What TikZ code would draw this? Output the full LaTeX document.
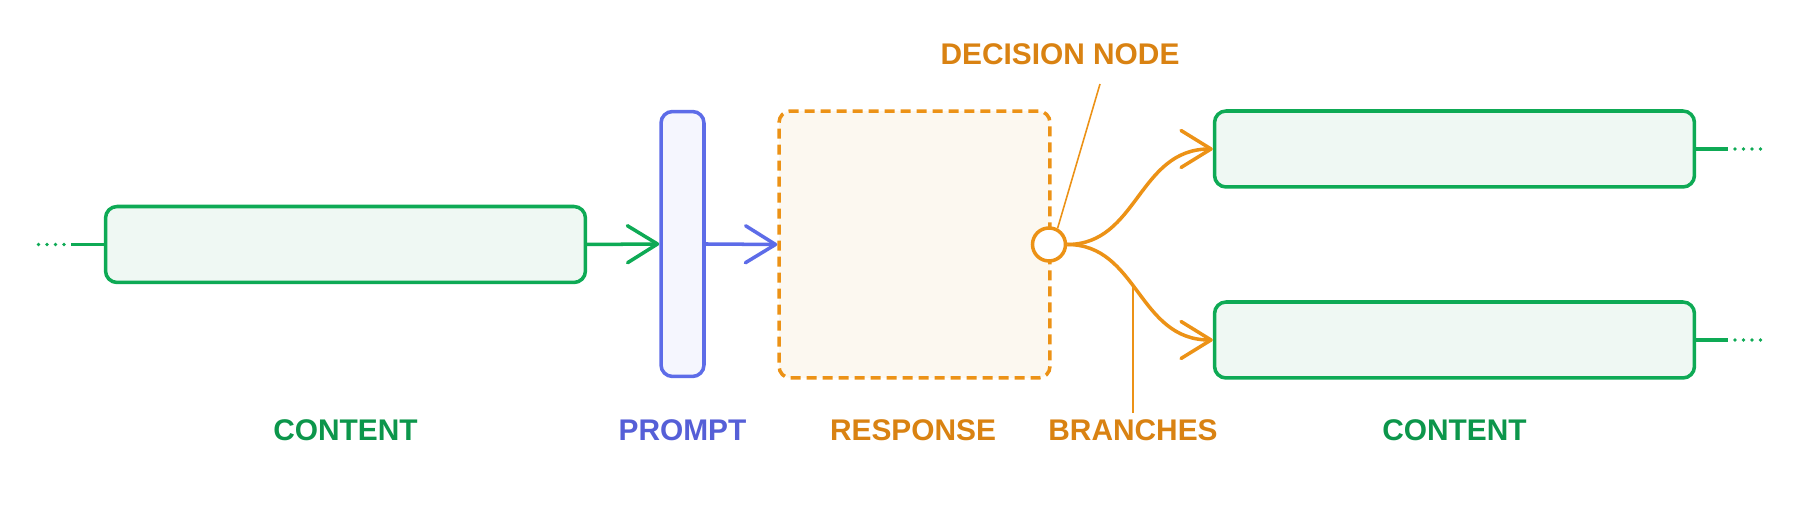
\documentclass[tikz,border=0pt]{standalone}
\usepackage{fontspec}
\setmainfont{Liberation Sans}
\usetikzlibrary{arrows.meta}

\definecolor{gline}{HTML}{0EAA55}
\definecolor{gfill}{HTML}{EFF8F3}
\definecolor{gtext}{HTML}{0C964B}
\definecolor{bline}{HTML}{5D6CE8}
\definecolor{bfill}{HTML}{F5F6FE}
\definecolor{btext}{HTML}{555FD7}
\definecolor{oline}{HTML}{EC9216}
\definecolor{ofill}{HTML}{FCF8F0}
\definecolor{otext}{HTML}{D98212}

\begin{document}
\begin{tikzpicture}[x=0.02cm,y=0.02cm]
            \tikzstyle{contentbox}=[draw=gline,fill=gfill,line width=2pt,rounded corners=0.23cm,minimum width=9.6cm,minimum height=1.52cm,inner sep=0pt]
            \tikzstyle{promptbox}=[draw=bline,fill=bfill,line width=2pt,rounded corners=0.23cm,minimum width=0.86cm,minimum height=5.3cm,inner sep=0pt]
            \tikzstyle{responsebox}=[draw=oline,fill=ofill,line width=2pt,rounded corners=0.23cm,dash pattern=on 0.2cm off 0.12cm,minimum width=5.42cm,minimum height=5.34cm,inner sep=0pt]
            \tikzstyle{decnode}=[circle,draw=oline,fill=white,line width=2pt,minimum size=0.66cm,inner sep=0pt]
            \tikzstyle{lab}=[font=\fontsize{17}{20}\selectfont\bfseries]
            \tikzstyle{tip}=[-{Straight Barb[length=0.6cm,width=0.74cm,round]}]

            \useasboundingbox (0,0) rectangle (1800,506);

            %blocks
            \node[contentbox] (cleft) at (345.5,261.5) {};
            \node[promptbox] (prompt) at (682.5,262) {};
            \node[responsebox] (resp) at (914.5,261.5) {};
            \node[decnode] (dec) at (1049,261.5) {};
            \node[contentbox] (ctop) at (1454.5,357) {};
            \node[contentbox] (cbot) at (1454.5,166) {};

            %labels
            \node[lab,text=gtext] (lcleft) at (345.5,76) {CONTENT};
            \node[lab,text=btext] (lprompt) at (682.5,76) {PROMPT};
            \node[lab,text=otext] (lresp) at (913,76) {RESPONSE};
            \node[lab,text=gtext] (lcright) at (1454.5,76) {CONTENT};
            \node[lab,text=otext] (ldec) at (1060,452) {DECISION NODE};

            %arrows
            \draw[tip,draw=gline,line width=2pt] (cleft.east) -- (prompt.west);
            \draw[tip,draw=bline,line width=2pt] (prompt.east) -- (resp.west);
            \draw[tip,draw=oline,line width=2pt] (dec.east) .. controls (1138,261.5) and (1138,357) .. (ctop.west);
            \draw[tip,draw=oline,line width=2pt] (dec.east) .. controls (1138,261.5) and (1138,166) .. (cbot.west) coordinate[pos=0.45] (brk);

            %branches label
            \node[lab,text=otext] (lbr) at (brk |- 0,76) {BRANCHES};
            \draw[oline,line width=0.9pt] (brk) -- (lbr.north);

            %decision label
            \coordinate (dtip) at (1100,422);
            \draw[oline,line width=0.9pt] (dec.62) -- (dtip);

            %loose ends
            \coordinate (lstub) at (71,261.5);
            \coordinate (ldot) at (64,261.5);
            \coordinate (lend) at (38,261.5);
            \draw[gline,line width=2pt] (cleft.west) -- (lstub);
            \draw[gline,line width=2.2pt,line cap=round,dash pattern=on 0pt off 0.17cm] (ldot) -- (lend);
            \foreach \b/\y in {ctop/357,cbot/166}
            {
                \coordinate (rstub) at (1728,\y);
                \coordinate (rend) at (1761.5,\y);
                \draw[gline,line width=2pt] (\b.east) -- (rstub);
                \draw[gline,line width=2.2pt,line cap=round,dash pattern=on 0pt off 0.17cm] (1735,\y) -- (rend);
            }

\end{tikzpicture}
\end{document}
